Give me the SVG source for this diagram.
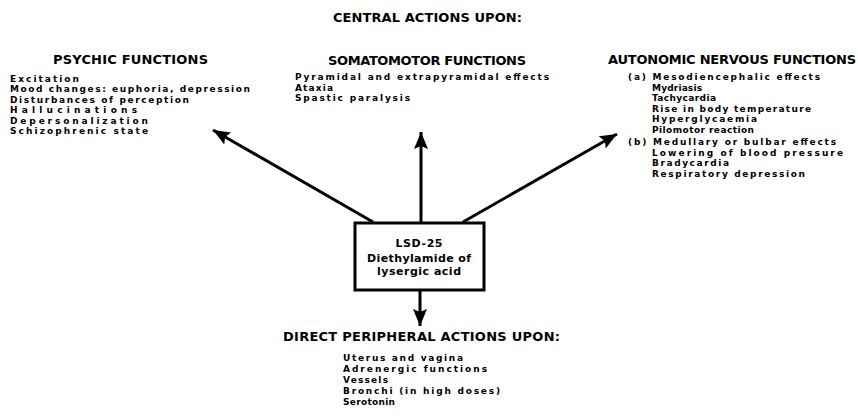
<svg xmlns="http://www.w3.org/2000/svg" width="858" height="419" viewBox="0 0 858 419">
<style>
text{font-family:"DejaVu Sans","Liberation Sans",sans-serif;font-weight:bold;fill:#000}
.h{font-size:13px}
.t{font-size:9px}
.b{font-size:11px}
.c{text-anchor:middle}
.ln{stroke:#000;stroke-width:3;fill:none}
.box{fill:#fff;stroke:#000;stroke-width:3}
</style>
<defs>
<marker id="ah" markerUnits="userSpaceOnUse" markerWidth="18" markerHeight="14" refX="17" refY="7" orient="auto" viewBox="0 0 18 14">
<path d="M0,0 L17,7 L0,14 L3,7 z" fill="#000"/>
</marker>
</defs>
<g id="title"><text class="h" x="333" y="22" textLength="189" lengthAdjust="spacing">CENTRAL ACTIONS UPON:</text></g>
<g id="connectors">
<line class="ln" x1="373" y1="222" x2="213" y2="130" marker-end="url(#ah)"/>
<line class="ln" x1="421" y1="222" x2="421" y2="132" marker-end="url(#ah)"/>
<line class="ln" x1="463" y1="222" x2="617" y2="134" marker-end="url(#ah)"/>
<line class="ln" x1="420" y1="291" x2="420" y2="326" marker-end="url(#ah)"/>
</g>
<g id="psychic">
<text class="h" x="53" y="64" textLength="155" lengthAdjust="spacing">PSYCHIC FUNCTIONS</text>
<text class="t" x="10" y="81.5" textLength="69" lengthAdjust="spacing">Excitation</text>
<text class="t" x="10" y="92" textLength="240" lengthAdjust="spacing">Mood changes: euphoria, depression</text>
<text class="t" x="10" y="102.5" textLength="179" lengthAdjust="spacing">Disturbances of perception</text>
<text class="t" x="10" y="113" textLength="127" lengthAdjust="spacing">Hallucinations</text>
<text class="t" x="10" y="123.5" textLength="138" lengthAdjust="spacing">Depersonalization</text>
<text class="t" x="10" y="134" textLength="138" lengthAdjust="spacing">Schizophrenic state</text>
</g>
<g id="somatomotor">
<text class="h" x="328" y="65" textLength="198" lengthAdjust="spacing">SOMATOMOTOR FUNCTIONS</text>
<text class="t" x="295" y="80" textLength="254" lengthAdjust="spacing">Pyramidal and extrapyramidal effects</text>
<text class="t" x="295" y="90.5" textLength="38" lengthAdjust="spacing">Ataxia</text>
<text class="t" x="295" y="101" textLength="115" lengthAdjust="spacing">Spastic paralysis</text>
</g>
<g id="autonomic">
<text class="h" x="608" y="64" textLength="248" lengthAdjust="spacing">AUTONOMIC NERVOUS FUNCTIONS</text>
<text class="t" x="628" y="80" textLength="192" lengthAdjust="spacing">(a) Mesodiencephalic effects</text>
<text class="t" x="652" y="90.5" textLength="50" lengthAdjust="spacing">Mydriasis</text>
<text class="t" x="652" y="101" textLength="64" lengthAdjust="spacing">Tachycardia</text>
<text class="t" x="652" y="111.5" textLength="159" lengthAdjust="spacing">Rise in body temperature</text>
<text class="t" x="652" y="122" textLength="105" lengthAdjust="spacing">Hyperglycaemia</text>
<text class="t" x="652" y="132.5" textLength="102" lengthAdjust="spacing">Pilomotor reaction</text>
<text class="t" x="628" y="145" textLength="208" lengthAdjust="spacing">(b) Medullary or bulbar effects</text>
<text class="t" x="652" y="155.5" textLength="191" lengthAdjust="spacing">Lowering of blood pressure</text>
<text class="t" x="652" y="166" textLength="77" lengthAdjust="spacing">Bradycardia</text>
<text class="t" x="652" y="176.5" textLength="153" lengthAdjust="spacing">Respiratory depression</text>
</g>
<g id="lsd">
<rect class="box" x="355" y="223" width="129" height="67"/>
<text class="b c" x="419" y="246.5" textLength="47" lengthAdjust="spacing">LSD-25</text>
<text class="b c" x="419" y="261.5" textLength="104" lengthAdjust="spacing">Diethylamide of</text>
<text class="b c" x="419" y="275" textLength="84" lengthAdjust="spacing">lysergic acid</text>
</g>
<g id="peripheral">
<text class="h" x="283" y="341" textLength="277" lengthAdjust="spacing">DIRECT PERIPHERAL ACTIONS UPON:</text>
<text class="t" x="343" y="361" textLength="120" lengthAdjust="spacing">Uterus and vagina</text>
<text class="t" x="343" y="372" textLength="144" lengthAdjust="spacing">Adrenergic functions</text>
<text class="t" x="343" y="383" textLength="45" lengthAdjust="spacing">Vessels</text>
<text class="t" x="343" y="394" textLength="157" lengthAdjust="spacing">Bronchi (in high doses)</text>
<text class="t" x="343" y="404.5" textLength="52" lengthAdjust="spacing">Serotonin</text>
</g>
</svg>
